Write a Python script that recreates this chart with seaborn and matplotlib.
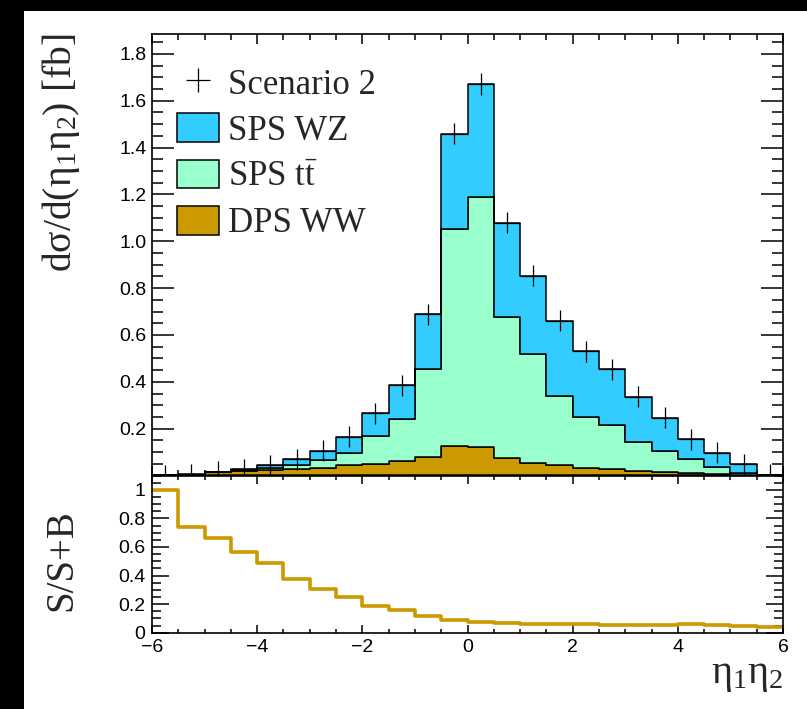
import numpy as np
import pandas as pd
import matplotlib
matplotlib.use('Agg')
import matplotlib.pyplot as plt
import seaborn as sns
from matplotlib.patches import Patch, Rectangle
from matplotlib.lines import Line2D
from matplotlib.ticker import MultipleLocator

# --- values ---

# bin edges in eta1*eta2
eta_edges = [-6.0, -5.5, -5.0, -4.5, -4.0, -3.5, -3.0, -2.5, -2.0, -1.5, -1.0, -0.5,
             0.0, 0.5, 1.0, 1.5, 2.0, 2.5, 3.0, 3.5, 4.0, 4.5, 5.0, 5.5, 6.0]

# per-process contributions (stacked), fb
dps_ww = [0.001, 0.004, 0.013, 0.020, 0.023, 0.026, 0.034, 0.044, 0.051, 0.063, 0.080, 0.127,
          0.123, 0.076, 0.054, 0.044, 0.033, 0.026, 0.020, 0.014, 0.010, 0.007, 0.004, 0.003]
sps_tt = [0.000, 0.000, 0.001, 0.003, 0.010, 0.018, 0.034, 0.050, 0.117, 0.179, 0.373, 0.924,
          1.068, 0.599, 0.463, 0.296, 0.218, 0.189, 0.121, 0.090, 0.060, 0.030, 0.005, 0.001]
sps_wz = [0.001, 0.002, 0.002, 0.003, 0.011, 0.026, 0.037, 0.071, 0.097, 0.144, 0.235, 0.409,
          0.481, 0.405, 0.335, 0.320, 0.280, 0.238, 0.195, 0.142, 0.085, 0.060, 0.039, 0.000]

# pseudo-data "Scenario 2" and its errors
scen2 = [0.000, 0.006, 0.016, 0.026, 0.044, 0.070, 0.105, 0.165, 0.265, 0.386, 0.688, 1.460,
         1.672, 1.080, 0.852, 0.660, 0.531, 0.453, 0.336, 0.246, 0.155, 0.097, 0.048, 0.004]
scen2_err = [0.045, 0.045, 0.045, 0.045, 0.045, 0.045, 0.045, 0.045, 0.045, 0.045, 0.046, 0.044,
             0.046, 0.045, 0.045, 0.045, 0.045, 0.045, 0.045, 0.045, 0.045, 0.044, 0.045, 0.045]

# S/(S+B) ratio panel
ratio = [1.000, 0.738, 0.660, 0.562, 0.485, 0.375, 0.309, 0.251, 0.185, 0.157, 0.117, 0.087,
         0.073, 0.066, 0.061, 0.061, 0.061, 0.054, 0.054, 0.056, 0.059, 0.056, 0.049, 0.042]

process_names = ['SPS WZ', 'SPS tt', 'DPS WW']
process_colors = {'SPS WZ': '#33ccff', 'SPS tt': '#99ffcc', 'DPS WW': '#cc9900'}
legend_labels = ['Scenario 2', 'SPS WZ', r'SPS t$\bar{t}$', 'DPS WW']

upper_yticks = [0.2, 0.4, 0.6, 0.8, 1.0, 1.2, 1.4, 1.6, 1.8]
upper_ylabels = ['0.2', '0.4', '0.6', '0.8', '1.0', '1.2', '1.4', '1.6', '1.8']
lower_yticks = [0, 0.2, 0.4, 0.6, 0.8, 1]
lower_ylabels = ['0', '0.2', '0.4', '0.6', '0.8', '1']

# --- build long table for seaborn ---
edges = np.array(eta_edges)
centers = (edges[:-1] + edges[1:]) / 2
df = pd.DataFrame({
    'eta': np.concatenate([centers, centers, centers]),
    'xs': np.concatenate([sps_wz, sps_tt, dps_ww]),
    'process': np.repeat(process_names, len(centers)),
})

sns.set_style('ticks')
plt.rcParams['font.family'] = ['Liberation Sans', 'DejaVu Sans']
plt.rcParams['mathtext.default'] = 'regular'
serif = ['Liberation Serif', 'DejaVu Serif']

W, H = 807, 709
fig = plt.figure(figsize=(W / 100, H / 100), dpi=100, facecolor='black')
# white canvas inside the black border
fig.patches.append(Rectangle((24 / W, 0), 1 - 24 / W, 1 - 11 / H, transform=fig.transFigure,
                             facecolor='white', edgecolor='none', zorder=-10))

ax1 = fig.add_axes([152 / W, 1 - 475.5 / H, 631 / W, 441.5 / H])
ax2 = fig.add_axes([152 / W, 1 - 632.7 / H, 631 / W, 157.2 / H], sharex=ax1)

# stacked histogram
sns.histplot(data=df, x='eta', weights='xs', hue='process', hue_order=process_names,
             multiple='stack', bins=eta_edges, element='step', palette=process_colors,
             alpha=1, edgecolor='black', linewidth=1.1, legend=False, ax=ax1)

# data crosses
ax1.errorbar(centers, scen2, yerr=scen2_err, xerr=0.25, fmt='none', ecolor='black',
             elinewidth=0.9, capsize=0, zorder=5)

ax1.set_xlim(-6, 6)
ax1.set_ylim(0, 1.885)
ax1.set_yticks(upper_yticks, labels=upper_ylabels)
ax1.yaxis.set_minor_locator(MultipleLocator(0.05))
ax1.xaxis.set_major_locator(MultipleLocator(2))
ax1.xaxis.set_minor_locator(MultipleLocator(0.5))
ax1.set_xlabel('')
ax1.set_ylabel('')
ax1.tick_params(axis='x', labelbottom=False)
ax1.tick_params(axis='y', which='major', length=16, pad=4)
ax1.tick_params(axis='y', which='minor', length=8)
ax1.tick_params(axis='x', which='major', length=7.5)
ax1.tick_params(axis='x', which='minor', length=4)

# ratio panel
sns.lineplot(x=eta_edges, y=ratio + [ratio[-1]], drawstyle='steps-post', color='#cc9900',
             linewidth=2.6, ax=ax2)
ax2.set_ylim(0, 1.1)
ax2.set_yticks(lower_yticks, labels=lower_ylabels)
ax2.yaxis.set_minor_locator(MultipleLocator(0.05))
ax2.xaxis.set_minor_locator(MultipleLocator(0.5))
ax2.set_xticks([-6, -4, -2, 0, 2, 4, 6], labels=['\u22126', '\u22124', '\u22122', '0', '2', '4', '6'])
ax2.set_xlim(-6, 6)
ax2.set_xlabel('')
ax2.set_ylabel('')
ax2.tick_params(axis='y', which='major', length=12, pad=5)
ax2.tick_params(axis='y', which='minor', length=6.5)
ax2.tick_params(axis='x', which='major', length=6, pad=4.5)
ax2.tick_params(axis='x', which='minor', length=3)

for ax in (ax1, ax2):
    ax.tick_params(which='both', direction='in', top=True, right=True, width=1.1,
                   color='black', labelsize=14, labelcolor='black')
    for sp in ax.spines.values():
        sp.set_linewidth(1.2)
        sp.set_color('black')
    ax.set_facecolor('white')

# legend
handles = [Line2D([], [], marker='+', linestyle='none', color='black', markersize=17, mew=0.9)]
for name in process_names:
    handles.append(Patch(facecolor=process_colors[name], edgecolor='black', linewidth=1.1))
ax1.legend(handles, legend_labels, loc='upper left', bbox_to_anchor=(0.04, 0.925), frameon=False,
           prop={'family': serif, 'size': 25}, handlelength=1.2, handleheight=0.9,
           handletextpad=0.25, labelspacing=0.34, borderpad=0, borderaxespad=0)

# axis titles
fig.text(71 / W, 1 - 34 / H, r'd$\sigma$/d($\eta_{1}\eta_{2}$) [fb]', rotation=90,
         rotation_mode='anchor', ha='right', va='baseline', family=serif, size=28.5)
fig.text(71 / W, 1 - 560 / H, 'S/S+B', rotation=90, rotation_mode='anchor',
         ha='center', va='baseline', family=serif, size=28)
fig.text(783 / W, 1 - 683 / H, r'$\eta_{1}\eta_{2}$', ha='right', va='baseline',
         family=serif, size=29)

fig.savefig('out.png', dpi=100, facecolor=fig.get_facecolor())
